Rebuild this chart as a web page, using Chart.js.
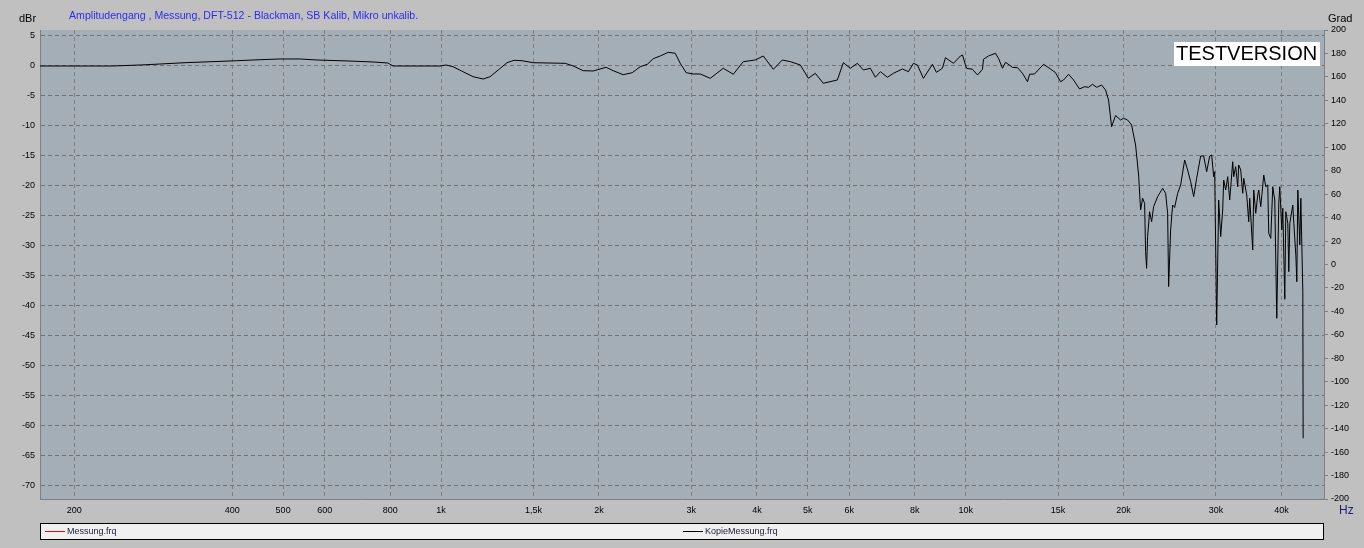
<!DOCTYPE html>
<html>
<head>
<meta charset="utf-8">
<script src="https://cdn.jsdelivr.net/npm/chart.js@4.4.1/dist/chart.umd.min.js"></script>
<style>
    body { margin: 0; background: #c0c0c0; }
    canvas { display: block; }
</style>
</head>
<body>
<canvas id="chart" width="1364" height="548"></canvas>
<script>
// frequency (Hz) and level (dBr)
const freqs = [172, 236, 268, 291, 325, 366, 408, 452, 493, 538, 580, 668, 742, 792, 810, 996,
    1022, 1054, 1101, 1151, 1203, 1240, 1285, 1336, 1378, 1427, 1498, 1593, 1724, 1786, 1866, 1950,
    2010, 2064, 2129, 2224, 2314, 2397, 2472, 2538, 2617, 2710, 2795, 2857, 2933, 3025, 3120, 3260,
    3451, 3606, 3768, 3972, 4114, 4299, 4472, 4633, 4840, 5013, 5169, 5354, 5694, 5846, 6028, 6217,
    6383, 6582, 6728, 6878, 7093, 7282, 7575, 7778, 7951, 8091, 8307, 8642, 8795, 9030, 9150, 9478,
    9774, 9861, 10036, 10303, 10533, 10766, 10814, 11054, 11399, 11550, 11755, 11911, 12283, 12556, 12834, 13119,
    13235, 13529, 14074, 14513, 14836, 15166, 15366, 15708, 16057, 16485, 16852, 17149, 17453, 17763, 18158, 18479,
    18724, 18973, 19308, 19737, 19999, 20354, 20714, 21082, 21362, 21551, 21740, 21932, 22029, 22126, 22223, 22420,
    22618, 22818, 23221, 23738, 24053, 24265, 24372, 24587, 24804, 25023, 25355, 25692, 26146, 26493, 26845, 27202,
    27562, 28051, 28424, 28802, 29183, 29441, 29701, 29832, 30096, 30360, 30628, 30899, 31035, 31309, 31586, 31865,
    32288, 32430, 32714, 33003, 33149, 33442, 33737, 33886, 34336, 34637, 34790, 35252, 35407, 35720, 36036, 36195,
    36515, 37000, 37327, 37657, 37823, 38157, 38494, 38834, 39177, 39523, 39697, 40048, 40225, 40580, 40759, 41119,
    41300, 41482, 42033, 42219, 42592, 42780, 42968, 43348, 43539, 43923, 43981];
const levels = [0, 0, 0.17, 0.33, 0.55, 0.72, 0.88, 1.05, 1.17, 1.17, 1.0, 0.83, 0.67, 0.5, 0, 0,
    0.17, -0.12, -0.95, -1.78, -2.17, -1.78, -0.67, 0.55, 0.95, 0.88, 0.55, 0.5, 0.45, 0, -0.78, -0.83,
    -0.5, -0.22, -0.78, -1.45, -1.12, -0.12, 0.28, 1.22, 1.67, 2.28, 2.12, 0.45, -1.12, -1.33, -1.33, -2.05,
    -0.38, -1.38, 0.72, 1.0, 1.67, -0.55, 1.0, 0.72, 0.17, -2.05, -1.22, -2.88, -2.33, 0.55, -0.38, 0.45,
    -0.67, -0.38, -1.88, -0.95, -1.88, -1.22, -0.5, -0.95, 0.45, 0.17, -2.05, 0.28, -1.05, -0.38, 1.38, 0.45,
    1.67, 1.83, -0.38, -0.55, -1.5, -0.55, 1.12, 1.67, 2.12, 1.28, -0.38, 0.62, -0.22, -0.28, -1.22, -2.62,
    -1.38, -1.33, 0.28, -0.5, -1.12, -2.62, -2.33, -1.38, -2.33, -3.83, -3.45, -3.55, -3.05, -3.55, -3.17, -4.0,
    -5.67, -10.12, -8.25, -9.0, -8.72, -9.0, -9.83, -13.17, -18.17, -24.0, -22.05, -22.88, -30.95, -33.72, -28.45, -24.28,
    -25.95, -23.45, -21.78, -20.38, -21.22, -24.55, -36.78, -27.33, -23.17, -23.58, -21.22, -19.83, -15.67, -17.33, -19.28, -21.78,
    -18.72, -15.0, -15.0, -17.62, -15.0, -14.83, -18.45, -17.62, -43.17, -22.33, -28.45, -24.0, -19.0, -20.67, -18.45, -22.33,
    -15.95, -18.45, -16.78, -20.12, -16.5, -17.33, -21.22, -18.72, -21.5, -25.95, -22.05, -30.67, -20.67, -24.55, -21.5, -20.67,
    -23.45, -18.17, -20.12, -19.83, -27.88, -28.72, -20.12, -22.33, -42.05, -22.88, -20.12, -27.33, -23.72, -38.88, -24.28, -26.22,
    -34.28, -26.22, -23.17, -26.22, -31.5, -35.95, -20.67, -29.83, -22.05, -37.62, -62.05];

const freqTicks = [200, 400, 500, 600, 800, 1000, 1500, 2000, 3000, 4000, 5000, 6000, 8000, 10000, 15000, 20000, 30000, 40000];
const freqLabels = ['200', '400', '500', '600', '800', '1k', '1,5k', '2k', '3k', '4k', '5k', '6k', '8k', '10k', '15k', '20k', '30k', '40k'];
const dbTicks = [5, 0, -5, -10, -15, -20, -25, -30, -35, -40, -45, -50, -55, -60, -65, -70];
const phaseTicks = [200, 180, 160, 140, 120, 100, 80, 60, 40, 20, 0, -20, -40, -60, -80, -100, -120, -140, -160, -180, -200];

const seriesNames = ['Messung.frq', 'KopieMessung.frq'];
const seriesColors = ['#ff0000', '#000000'];

const tickFont = {family: 'Liberation Sans', size: 9};

const frame = {
    id: 'frame',
    beforeDraw(chart) {
        const {ctx, chartArea: a} = chart;
        ctx.save();
        ctx.fillStyle = '#c0c0c0';
        ctx.fillRect(0, 0, chart.width, chart.height);
        ctx.fillStyle = '#a4aeb7';
        ctx.fillRect(a.left, a.top, a.right - a.left, a.bottom - a.top);
        ctx.restore();
    },
    afterDraw(chart) {
        const {ctx, chartArea: a} = chart;
        ctx.save();
        ctx.textBaseline = 'middle';

        ctx.font = '10.6px "Liberation Sans"';
        ctx.fillStyle = '#2c2cf0';
        ctx.fillText('Amplitudengang , Messung, DFT-512 - Blackman, SB Kalib, Mikro unkalib.', 69, 16);

        ctx.font = '11px "Liberation Sans"';
        ctx.fillStyle = '#000';
        ctx.fillText('dBr', 19, 19);
        ctx.fillText('Grad', 1328, 19);

        ctx.font = '12px "Liberation Sans"';
        ctx.fillStyle = '#202070';
        ctx.fillText('Hz', 1339, 511);

        // legend box
        ctx.fillStyle = '#f0f0f0';
        ctx.fillRect(a.left, 523, a.right - a.left, 17);
        ctx.strokeStyle = '#000';
        ctx.lineWidth = 1;
        ctx.strokeRect(a.left + 0.5, 523.5, a.right - a.left - 1, 16);
        ctx.font = '9px "Liberation Sans"';
        const legendX = [45, 683];
        seriesNames.forEach((name, i) => {
            ctx.strokeStyle = seriesColors[i];
            ctx.beginPath();
            ctx.moveTo(legendX[i], 531.5);
            ctx.lineTo(legendX[i] + 20, 531.5);
            ctx.stroke();
            ctx.fillStyle = '#202040';
            ctx.fillText(name, legendX[i] + 22, 532);
        });

        // TESTVERSION stamp
        ctx.fillStyle = '#ffffff';
        ctx.fillRect(1174, 42, 146, 24);
        ctx.fillStyle = '#000';
        ctx.font = '20px "Liberation Sans"';
        ctx.fillText('TESTVERSION', 1176, 54.5);
        ctx.restore();
    }
};

const ctx = document.getElementById('chart').getContext('2d');
new Chart(ctx, {
    type: 'line',
    data: {
        datasets: [{
            label: seriesNames[1],
            data: freqs.map((f, i) => ({x: f, y: levels[i]})),
            borderColor: seriesColors[1],
            borderWidth: 1,
            pointRadius: 0,
            tension: 0,
            yAxisID: 'y'
        }]
    },
    options: {
        responsive: false,
        animation: false,
        events: [],
        layout: {padding: {top: 30, left: 0, right: 0, bottom: 0}},
        plugins: {legend: {display: false}, tooltip: {enabled: false}},
        scales: {
            x: {
                type: 'logarithmic',
                min: 172,
                max: 48200,
                afterBuildTicks: scale => { scale.ticks = freqTicks.map(v => ({value: v})); },
                afterFit: scale => { scale.height = 49; },
                ticks: {
                    autoSkip: false,
                    maxRotation: 0,
                    padding: 6,
                    color: '#000',
                    font: tickFont,
                    callback: value => freqLabels[freqTicks.indexOf(value)]
                },
                grid: {color: '#7e7e7e', drawTicks: false},
                border: {display: true, color: '#808080', dash: [4, 3]}
            },
            y: {
                position: 'left',
                min: -72.17,
                max: 6,
                afterBuildTicks: scale => { scale.ticks = dbTicks.map(v => ({value: v})); },
                afterFit: scale => { scale.width = 40; },
                ticks: {padding: 5, color: '#000', font: tickFont},
                grid: {color: '#727272', drawTicks: false},
                border: {display: true, color: '#808080', dash: [4, 3]}
            },
            y2: {
                position: 'right',
                min: -200,
                max: 200,
                afterBuildTicks: scale => { scale.ticks = phaseTicks.map(v => ({value: v})); },
                afterFit: scale => { scale.width = 40; },
                ticks: {padding: 3, color: '#000', font: tickFont},
                grid: {drawOnChartArea: false, drawTicks: true, tickLength: 4, color: '#808080'},
                border: {display: true, color: '#808080'}
            }
        }
    },
    plugins: [frame]
});
</script>
</body>
</html>
